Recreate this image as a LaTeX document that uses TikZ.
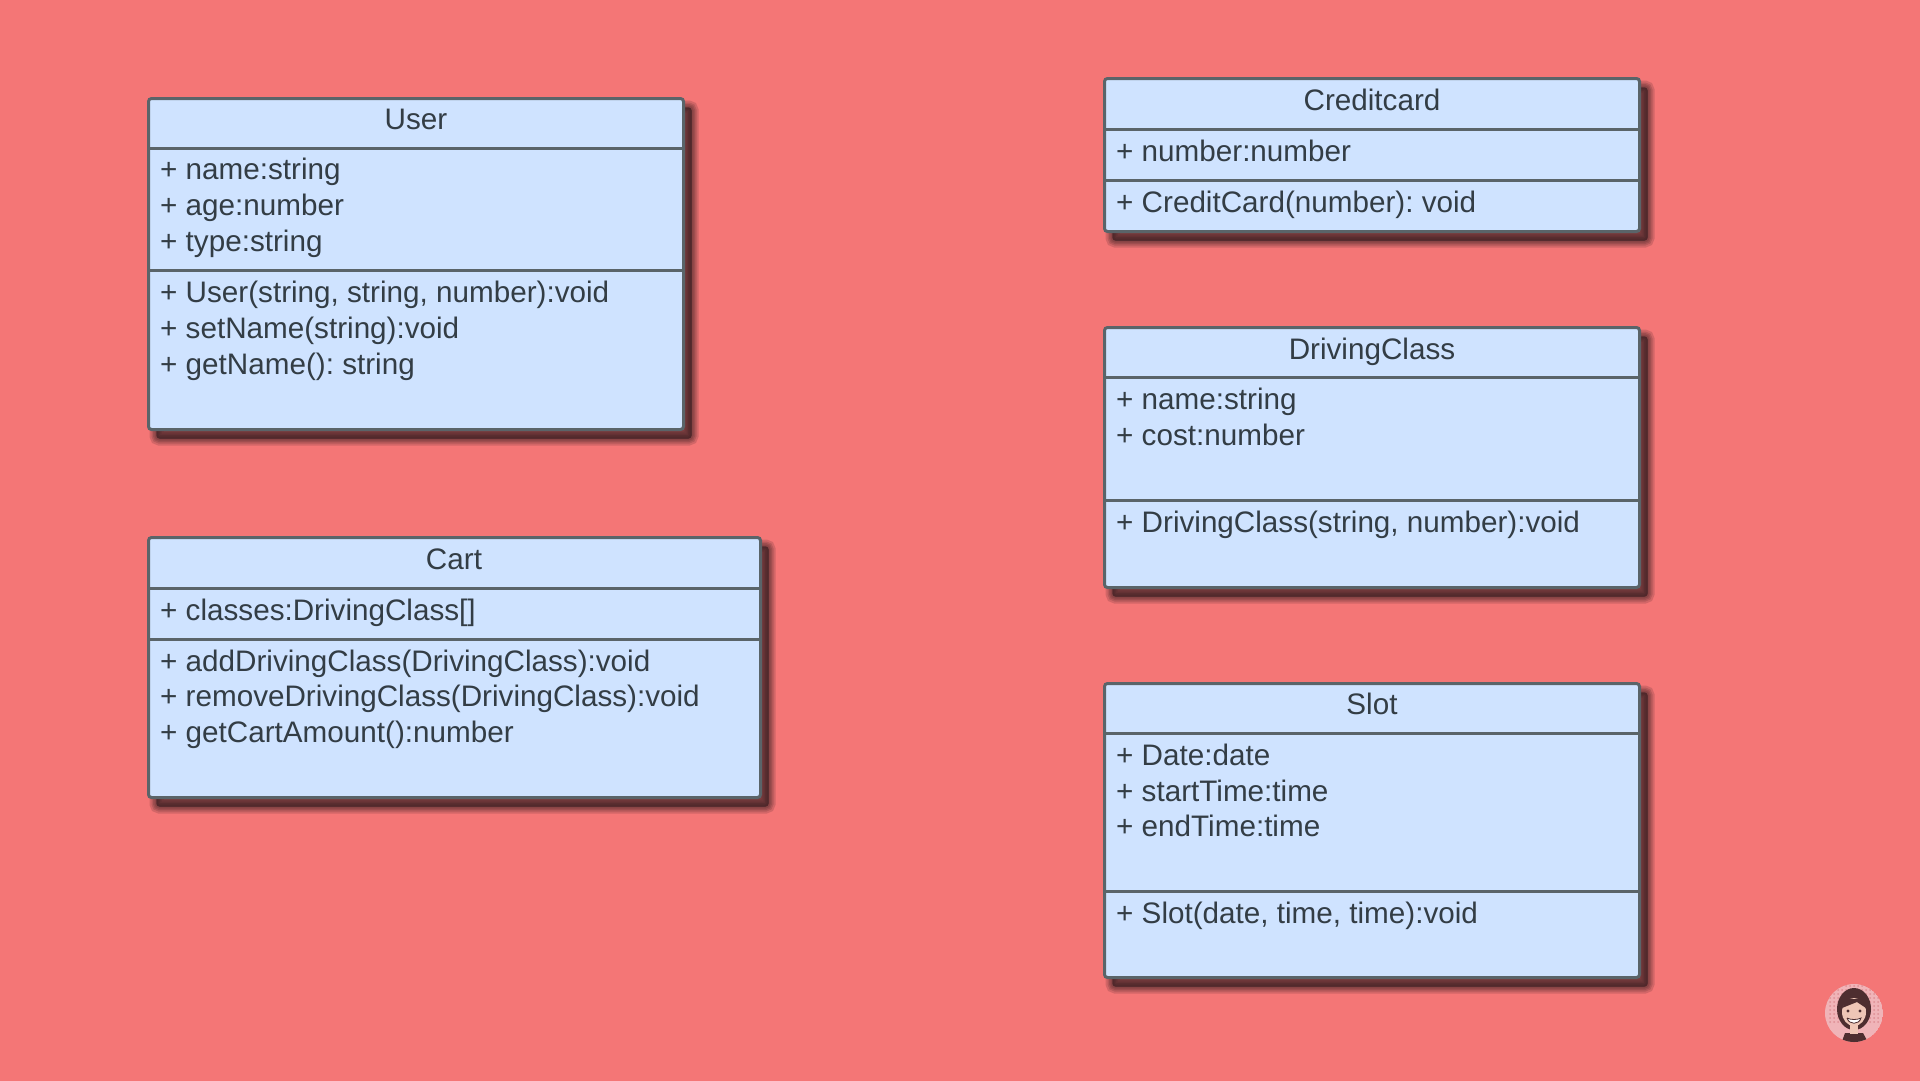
\documentclass[tikz,border=0pt]{standalone}
\usepackage{fontspec}
\setmainfont{Liberation Sans}
\frenchspacing
\definecolor{bgred}{HTML}{F47676}
\definecolor{boxblue}{HTML}{CFE3FF}
\definecolor{boxline}{HTML}{5A6469}
\definecolor{rowink}{HTML}{333D45}
\definecolor{shadowink}{HTML}{2E1A1E}
\definecolor{avring}{HTML}{F0B4B8}
\definecolor{avdot}{HTML}{DE8E94}
\definecolor{avhair}{HTML}{4E2E30}
\definecolor{avskin}{HTML}{EFC6B6}
\tikzset{
  softlayer/.style={preaction={draw=shadowink,fill=shadowink,line width=#1,opacity=.17,transform canvas={xshift=8pt,yshift=-9pt}}},
  classbox/.style={draw=boxline,line width=3pt,fill=boxblue,rounded corners=3pt,anchor=north west,inner sep=0pt,
    softlayer=14pt,softlayer=10pt,softlayer=7pt,softlayer=4pt,softlayer=1pt},
  rowline/.style={draw=boxline,line width=3pt},
  rowtext/.style={anchor=base west,inner sep=0pt,text=rowink,font=\fontsize{29.65}{35}\selectfont},
  titletext/.style={anchor=base,inner sep=0pt,text=rowink,font=\fontsize{29.65}{35}\selectfont}
}
\begin{document}
\begin{tikzpicture}[x=1pt,y=-1pt]
\useasboundingbox (0,0) rectangle (1920,1080);
\fill[bgred] (-2,-2) rectangle (1922,1082);
% User
\node[classbox,minimum width=535pt,minimum height=331pt] (user) at (147,97) {};
\draw[rowline] (user.west |- 0,148)--(user.east |- 0,148);
\draw[rowline] (user.west |- 0,270)--(user.east |- 0,270);
\node[titletext] (userT) at (416,129) {User};
\node[rowtext] (userA) at (160,179.7) {+ name:string};
\node[rowtext] (userB) at (160,215.3) {+ age:number};
\node[rowtext] (userC) at (160,251) {+ type:string};
\node[rowtext] (userD) at (160,302.7) {+ User(string, string, number):void};
\node[rowtext] (userE) at (160,338) {+ setName(string):void};
\node[rowtext] (userF) at (160,374) {+ getName(): string};
% Cart
\node[classbox,minimum width=612pt,minimum height=260pt] (cart) at (147,536) {};
\draw[rowline] (cart.west |- 0,588)--(cart.east |- 0,588);
\draw[rowline] (cart.west |- 0,639)--(cart.east |- 0,639);
\node[titletext] (cartT) at (454,569) {Cart};
\node[rowtext] (cartA) at (160,620) {+ classes:DrivingClass[]};
\node[rowtext] (cartB) at (160,671) {+ addDrivingClass(DrivingClass):void};
\node[rowtext] (cartC) at (160,706.5) {+ removeDrivingClass(DrivingClass):void};
\node[rowtext] (cartD) at (160,742) {+ getCartAmount():number};
% Creditcard
\node[classbox,minimum width=535pt,minimum height=153pt] (credit) at (1103,77) {};
\draw[rowline] (credit.west |- 0,129)--(credit.east |- 0,129);
\draw[rowline] (credit.west |- 0,180)--(credit.east |- 0,180);
\node[titletext] (creditT) at (1372,110) {Creditcard};
\node[rowtext] (creditA) at (1116,161) {+ number:number};
\node[rowtext] (creditB) at (1116,212) {+ CreditCard(number): void};
% DrivingClass
\node[classbox,minimum width=535pt,minimum height=260pt] (driving) at (1103,326) {};
\draw[rowline] (driving.west |- 0,377)--(driving.east |- 0,377);
\draw[rowline] (driving.west |- 0,500)--(driving.east |- 0,500);
\node[titletext] (drivingT) at (1372,359) {DrivingClass};
\node[rowtext] (drivingA) at (1116,409) {+ name:string};
\node[rowtext] (drivingB) at (1116,445) {+ cost:number};
\node[rowtext] (drivingC) at (1116,532) {+ DrivingClass(string, number):void};
% Slot
\node[classbox,minimum width=535pt,minimum height=294pt] (slot) at (1103,682) {};
\draw[rowline] (slot.west |- 0,733)--(slot.east |- 0,733);
\draw[rowline] (slot.west |- 0,891)--(slot.east |- 0,891);
\node[titletext] (slotT) at (1372,714) {Slot};
\node[rowtext] (slotA) at (1116,765) {+ Date:date};
\node[rowtext] (slotB) at (1116,801) {+ startTime:time};
\node[rowtext] (slotC) at (1116,836.5) {+ endTime:time};
\node[rowtext] (slotD) at (1116,923) {+ Slot(date, time, time):void};
% avatar
\begin{scope}
\clip (1854,1013) circle (29);
\fill[avring] (1854,1013) circle (29);
\foreach \a in {1830,1834,...,1880}{\foreach \b in {986,990,...,1022}{\fill[avdot] (\a,\b) circle (1);}}
\fill[avhair] (1854,1009) ellipse (17 and 21);
\fill[avhair] (1841,1044)--(1845,1033)--(1863,1033)--(1869,1044)--cycle;
\fill[avskin] (1854,1012) ellipse (12 and 14);
\fill[avskin] (1850,1024) rectangle (1858,1034);
\fill[avhair] (1842,1008)--(1846,999)--(1864,999)--(1866,1008)--(1857,1002)--cycle;
\fill[avhair] (1848,1011) circle (1.6) (1860,1011) circle (1.6);
\fill[white,draw=avhair,line width=.8pt] (1847,1018) .. controls (1851,1020) and (1857,1020) .. (1861,1018) .. controls (1859,1025) and (1849,1025) .. (1847,1018);
\end{scope}
\end{tikzpicture}
\end{document}
